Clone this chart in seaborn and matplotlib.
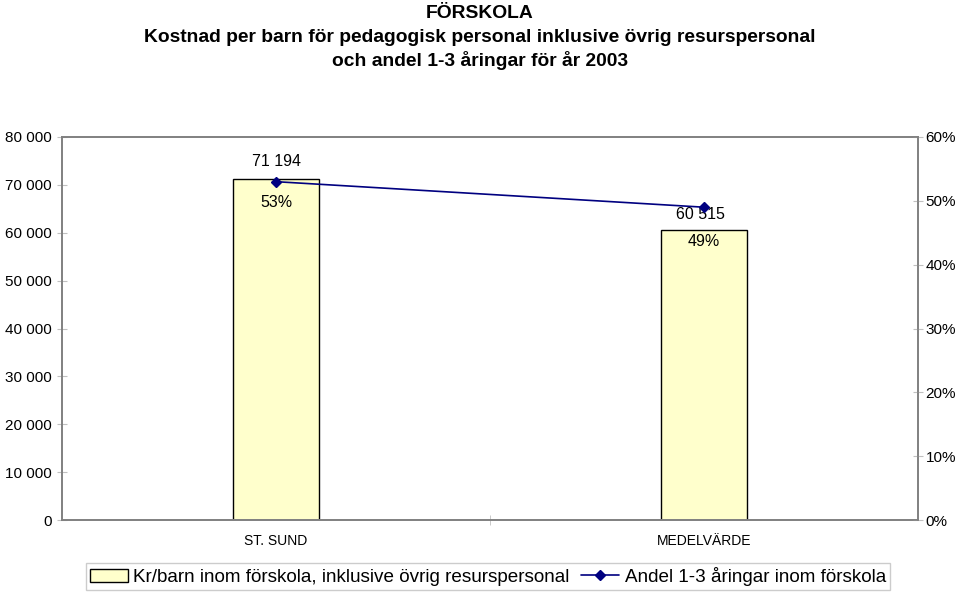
import matplotlib
matplotlib.use("Agg")
import matplotlib.pyplot as plt
import seaborn as sns
from matplotlib.ticker import FuncFormatter, FixedLocator
from matplotlib.lines import Line2D
from matplotlib.patches import Patch

# Data
categories = ["ST. SUND", "MEDELVÄRDE"]
kostnad = [71194, 60515]
andel = [0.53, 0.49]
kostnad_labels = ["71 194", "60 515"]
andel_labels = ["53%", "49%"]

bar_name = "Kr/barn inom förskola, inklusive övrig resurspersonal"
line_name = "Andel 1-3 åringar inom förskola"

sns.set_style("white")
plt.rcParams['font.family'] = ['Liberation Sans', 'DejaVu Sans']
plt.rcParams['text.color'] = 'black'
plt.rcParams['xtick.color'] = 'black'
plt.rcParams['ytick.color'] = 'black'

fig = plt.figure(figsize=(9.6, 5.92), dpi=100)
ax = fig.add_axes([0.0646, 0.1216, 0.8917, 0.647])

bar_color = "#FFFFCC"
line_color = "#000080"
grey = "#808080"

sns.barplot(x=categories, y=kostnad, ax=ax, color=bar_color, width=0.2,
            edgecolor="black", linewidth=1.0, saturation=1)
ax.set_ylim(0, 80000)
ax.set_xlim(-0.5, 1.5)
ax.yaxis.set_major_locator(FixedLocator(range(0, 80001, 10000)))
ax.yaxis.set_major_formatter(FuncFormatter(lambda v, p: f"{int(v):,}".replace(",", " ")))

ax2 = ax.twinx()
ax2.plot(range(len(categories)), andel, color=line_color, marker="D",
         markersize=5, linewidth=1.2)
ax2.set_ylim(0, 0.6)
ax2.set_xlim(-0.5, 1.5)
ax2.yaxis.set_major_locator(FixedLocator([i / 10 for i in range(7)]))
ax2.yaxis.set_major_formatter(FuncFormatter(lambda v, p: f"{v * 100:.0f}%"))

for a in (ax, ax2):
    for s in a.spines.values():
        s.set_color(grey)
        s.set_linewidth(1.2)
        s.set_visible(True)

ax.tick_params(axis="y", direction="inout", length=7, color="#c0c0c0",
               labelcolor="black", labelsize=11, pad=4, left=True)
ax2.tick_params(axis="y", direction="inout", length=7, color="#c0c0c0",
                labelcolor="black", labelsize=11, pad=2, right=True)
ax.set_xticks([0, 1])
ax.set_xticklabels(categories)
ax.tick_params(axis="x", length=0, labelsize=10, pad=10, labelcolor="black")
ax.xaxis.set_minor_locator(FixedLocator([0.5]))
ax.tick_params(axis="x", which="minor", direction="inout", length=7,
               color="#c0c0c0", bottom=True)
ax.set_xlabel("")
ax.set_ylabel("")

# data labels
ax.annotate(kostnad_labels[0], (0, kostnad[0]), xytext=(0, 18), textcoords="offset pixels",
            ha="center", va="center", fontsize=11.5)
ax.annotate(kostnad_labels[1], (1, kostnad[1]), xytext=(-4, 16), textcoords="offset pixels",
            ha="center", va="center", fontsize=11.5)
ax2.annotate(andel_labels[0], (0, andel[0]), xytext=(0, -21), textcoords="offset pixels",
             ha="center", va="center", fontsize=11.5)
ax2.annotate(andel_labels[1], (1, andel[1]), xytext=(0, -34), textcoords="offset pixels",
             ha="center", va="center", fontsize=11.5)

# titles
fig.text(0.5, 1 - 13 / 592, "FÖRSKOLA", ha="center", va="center",
         fontsize=13.9, fontweight="bold")
fig.text(0.5, 1 - 38 / 592, "Kostnad per barn för pedagogisk personal inklusive övrig resurspersonal",
         ha="center", va="center", fontsize=13.9, fontweight="bold")
fig.text(0.5, 1 - 60 / 592, "och andel 1-3 åringar för år 2003", ha="center", va="center",
         fontsize=13.9, fontweight="bold")

handles = [Patch(facecolor=bar_color, edgecolor="black", linewidth=1.0),
           Line2D([0], [0], color=line_color, marker="D", markersize=5, linewidth=1.2)]
leg = fig.legend(handles, [bar_name, line_name], loc="center", ncol=2,
                 bbox_to_anchor=(0.5083, 15.5 / 592), frameon=True, fancybox=False,
                 fontsize=13.6, handlelength=2.0, handleheight=0.7, handletextpad=0.3,
                 columnspacing=0.6, borderpad=0.2, borderaxespad=0, edgecolor="#c0c0c0")

fig.savefig("out.png", dpi=100)
